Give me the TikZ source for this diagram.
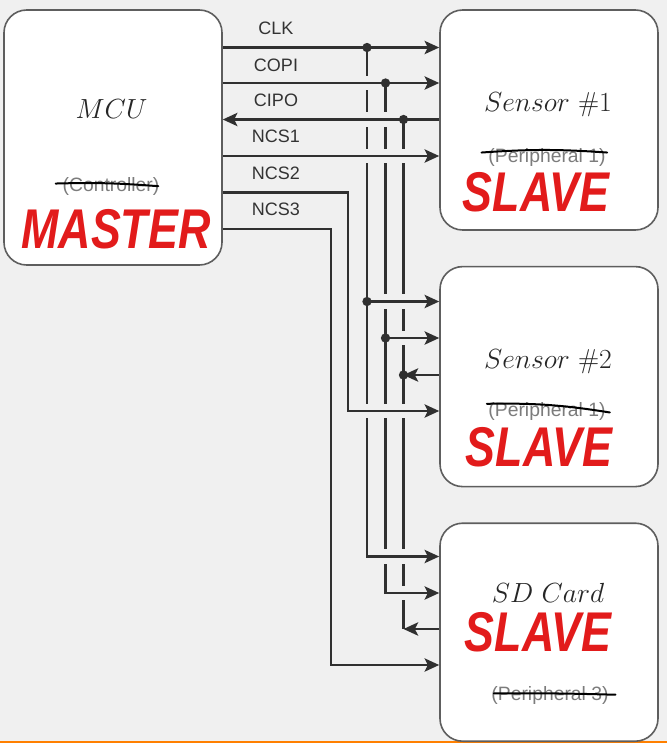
\documentclass[tikz,border=0pt]{standalone}
\usepackage{fontspec}
\setsansfont{Liberation Sans}
\usepackage{xcolor}
\usepackage{tikz}
\usetikzlibrary{positioning,arrows.meta,calc}
\definecolor{wire}{HTML}{303030}
\definecolor{rim}{HTML}{5E5E5E}
\definecolor{paper}{HTML}{F0F0F0}
\definecolor{marker}{HTML}{E21B1B}
\definecolor{faded}{HTML}{7C7C7C}
\definecolor{band}{HTML}{FF8000}
\tikzset{
  box/.style={rectangle,draw=rim,fill=white,rounded corners=17pt,line width=1.2pt,
    inner sep=0pt,minimum width=163.5pt,minimum height=165pt},
  ttl/.style={font=\fontsize{20.5}{24}\selectfont,text=black!85,inner sep=0pt},
  sig/.style={font=\sffamily\fontsize{13.5}{16}\selectfont,text=black!80,inner sep=0pt},
  old/.style={font=\sffamily\fontsize{14.5}{17}\selectfont,text=faded,inner sep=0pt},
  note/.style={font=\sffamily\bfseries\itshape\fontsize{42}{42}\selectfont,text=marker,
    inner sep=0pt,xscale=0.8},
  fl/.style={draw=wire,line width=1.6pt,>={Stealth[length=11pt,width=10pt,inset=2.5pt]}},
  hopcut/.style={rectangle,fill=paper,inner sep=0pt,minimum width=6pt,minimum height=11pt},
  jn/.style={circle,fill=wire,inner sep=0pt,minimum size=7pt},
  strike/.style={draw=black,line width=1.5pt,line cap=round},
}
\begin{document}
\begin{tikzpicture}[x=0.75pt,y=-0.75pt]
  \fill[paper] (0,0) rectangle (667,743);
  \fill[band] (0,740.5) rectangle (667,743);
  \useasboundingbox (0,0) rectangle (667,743);

  \node[box,minimum height=191.25pt] (mcu) at (113,137.5) {};
  \node[box] (sen1) at (549,120) {};
  \node[box,below=26.25pt of sen1] (sen2) {};
  \node[box,minimum height=163.5pt,below=26.25pt of sen2] (sdc) {};

  % junctions and corners
  \coordinate (clkA) at (367,47.5);
  \coordinate (copiA) at (385.5,83);
  \coordinate (cipoA) at (403.5,119.5);
  \coordinate (ncs1A) at (0,156);
  \coordinate (ncs2A) at (348,192.5);
  \coordinate (ncs3A) at (331,229);
  \coordinate (clkB) at (367,301.5);
  \coordinate (copiB) at (385.5,338);
  \coordinate (cipoB) at (403.5,375);
  \coordinate (ncs2B) at (348,411);
  \coordinate (clkC) at (367,556.5);
  \coordinate (copiC) at (385.5,593);
  \coordinate (cipoC) at (403.5,629);
  \coordinate (ncs3C) at (331,665);

  % buses
  \draw[fl] (clkA) -- (clkC);
  \draw[fl] (copiA) -- (copiC);
  \draw[fl] (cipoA) -- (cipoC);
  % line hops: cut the buses where a row runs over them
  \foreach \p in {(367,83),(367,119.5),(367,156),(367,411),
    (385.5,119.5),(385.5,156),(385.5,301.5),(385.5,411),(385.5,556.5),
    (403.5,156),(403.5,301.5),(403.5,338),(403.5,411),(403.5,556.5),(403.5,593)}
    \node[hopcut] at \p {};

  % controller rows
  \draw[fl,->] (mcu.east|-clkA) -- (sen1.west|-clkA);
  \draw[fl,->] (mcu.east|-copiA) -- (sen1.west|-copiA);
  \draw[fl,->] (sen1.west|-cipoA) -- (mcu.east|-cipoA);
  \draw[fl,->] (mcu.east|-ncs1A) -- (sen1.west|-ncs1A);
  \draw[fl,->] (mcu.east|-ncs2A) -- (ncs2A) -- (ncs2B) -- (sen2.west|-ncs2B);
  \draw[fl,->] (mcu.east|-ncs3A) -- (ncs3A) -- (ncs3C) -- (sdc.west|-ncs3C);
  % sensor 2 taps
  \draw[fl,->] (clkB) -- (sen2.west|-clkB);
  \draw[fl,->] (copiB) -- (sen2.west|-copiB);
  \draw[fl,->] (sen2.west|-cipoB) -- (cipoB);
  % sd card taps
  \draw[fl,->] ([yshift=6pt]clkC) -- (clkC) -- (sdc.west|-clkC);
  \draw[fl,->] ([yshift=6pt]copiC) -- (copiC) -- (sdc.west|-copiC);
  \draw[fl,->] (sdc.west|-cipoC) -- (cipoC);

  \node[jn] (dclkA) at (clkA) {};
  \node[jn] (dcopiA) at (copiA) {};
  \node[jn] (dcipoA) at (cipoA) {};
  \node[jn] (dclkB) at (clkB) {};
  \node[jn] (dcopiB) at (copiB) {};
  \node[jn] (dcipoB) at (cipoB) {};

  % signal names
  \node[sig] (lclk) at (276,28) {CLK};
  \node[sig] (lcopi) at (276,65) {COPI};
  \node[sig] (lcipo) at (276,100) {CIPO};
  \node[sig] (lncs1) at (276,136) {NCS1};
  \node[sig] (lncs2) at (276,173) {NCS2};
  \node[sig] (lncs3) at (276,209) {NCS3};

  % box texts
  \node[ttl] (tmcu) at ($(mcu.north)+(-1.5,100)$) {$MCU$};
  \node[old] (omcu) at ($(mcu.north)+(-2,177)$) {(Controller)};
  \node[note] (nmcu) at ($(mcu.north)+(3,220)$) {MASTER};

  \node[ttl] (tsen1) at ($(sen1.north)+(-1,95)$) {$Sensor\ \#1$};
  \node[old] (osen1) at ($(sen1.north)+(-2,148)$) {(Peripheral 1)};
  \node[note] (nsen1) at ($(sen1.north)+(-13,183)$) {SLAVE};

  \node[ttl] (tsen2) at ($(sen2.north)+(-1,96)$) {$Sensor\ \#2$};
  \node[old] (osen2) at ($(sen2.north)+(-2,146)$) {(Peripheral 1)};
  \node[note] (nsen2) at ($(sen2.north)+(-10,181)$) {SLAVE};

  \node[ttl] (tsdc) at ($(sdc.north)+(-1,70)$) {$SD\ Card$};
  \node[note] (nsdc) at ($(sdc.north)+(-11,110)$) {SLAVE};
  \node[old] (osdc) at ($(sdc.north)+(1,173)$) {(Peripheral 3)};

  % crossed out by hand
  \draw[strike] ([xshift=-5pt,yshift=2pt]omcu.west) to[bend left=3] ([xshift=-1pt]omcu.east);
  \draw[strike] ([xshift=-5pt,yshift=3.5pt]osen1.west) to[bend left=4] ([xshift=1pt,yshift=3.5pt]osen1.east);
  \draw[strike] ([xshift=-1pt,yshift=6pt]osen2.west) to[bend left=5] ([xshift=3pt,yshift=-0.5pt]osen2.east);
  \draw[strike] ([xshift=2pt,yshift=1.5pt]osdc.west) to[bend left=1] ([xshift=5pt,yshift=0.5pt]osdc.east);
\end{tikzpicture}
\end{document}
